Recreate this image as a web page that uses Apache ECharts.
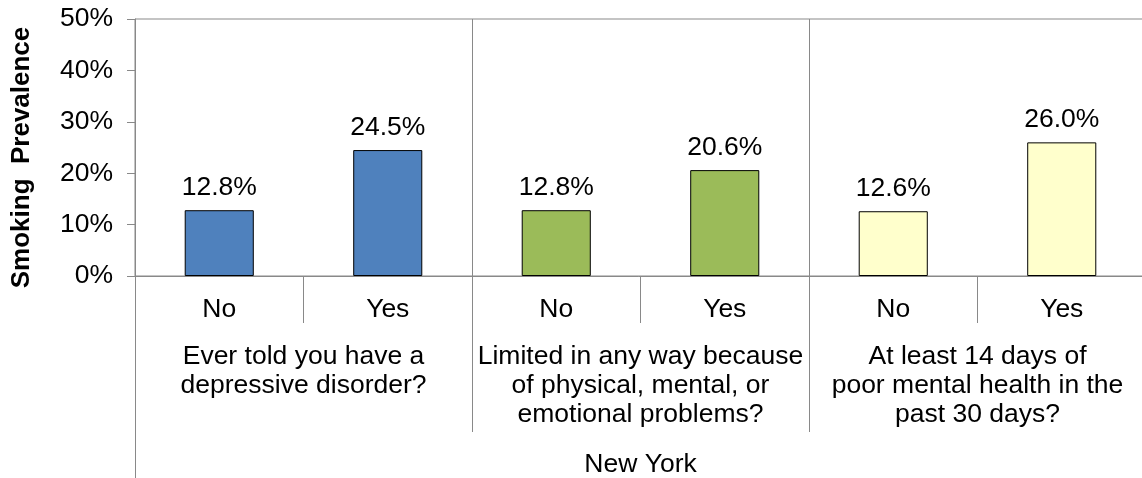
<!DOCTYPE html>
<html>
<head>
<meta charset="utf-8">
<script src="https://cdn.jsdelivr.net/npm/echarts@6/dist/echarts.min.js"></script>
<style>
html,body{margin:0;padding:0;background:#fff;}
#chart{width:1142px;height:478px;}
</style>
</head>
<body>
<div id="chart"></div>
<script>
// ---- data ----
const categories = ['No', 'Yes', 'No', 'Yes', 'No', 'Yes'];
const groups = [
  'Ever told you have a\ndepressive disorder?',
  'Limited in any way because\nof physical, mental, or\nemotional problems?',
  'At least 14 days of\npoor mental health in the\npast 30 days?'
];
const region = ['New York'];
const values = [12.8, 24.5, 12.8, 20.6, 12.6, 26.0];
const groupOfBar = [0, 0, 1, 1, 2, 2];
const yTicks = [0, 10, 20, 30, 40, 50];
const yName = 'Smoking  Prevalence';

// ---- styles ----
const groupColors = ['#4F81BD', '#9BBB59', '#FFFFCC'];
const GRAY = '#898989';
const FONT = "'Liberation Sans', Arial, sans-serif";
const FS = 26.5;

const chart = echarts.init(document.getElementById('chart'));
const option = {
  animation: false,
  textStyle: { fontFamily: FONT, color: '#000' },
  grid: { left: 135, top: 19, width: 1011, height: 257, show: true, borderColor: GRAY, borderWidth: 1, containLabel: false, outerBoundsMode: 'none' },
  xAxis: [
    {
      type: 'category', data: categories, position: 'bottom',
      axisLine: { show: true, lineStyle: { color: GRAY, width: 1 } },
      axisTick: { show: true, interval: 0, length: 47, lineStyle: { color: GRAY } },
      axisLabel: { interval: 0, margin: 20, fontSize: FS, color: '#000', fontFamily: FONT },
      splitLine: { show: false }
    },
    {
      type: 'category', data: groups, position: 'bottom',
      axisLine: { show: false },
      axisTick: { show: true, interval: 0, length: 156, lineStyle: { color: GRAY } },
      axisLabel: { interval: 0, margin: 66, fontSize: FS, lineHeight: 29, color: '#000', fontFamily: FONT, align: 'center' },
      splitLine: { show: true, interval: 0, lineStyle: { color: GRAY, width: 1 } }
    },
    {
      type: 'category', data: region, position: 'bottom',
      axisLine: { show: false },
      axisTick: { show: true, interval: 0, length: 202, lineStyle: { color: GRAY } },
      axisLabel: { interval: 0, margin: 175, fontSize: FS, color: '#000', fontFamily: FONT },
      splitLine: { show: false }
    }
  ],
  yAxis: {
    type: 'value', min: yTicks[0], max: yTicks[yTicks.length - 1], interval: yTicks[1] - yTicks[0],
    name: yName, nameLocation: 'middle', nameRotate: 90, nameGap: 100,
    nameTextStyle: { fontSize: 26, fontWeight: 'bold', color: '#000', fontFamily: FONT, padding: [0, 20, 0, 0] },
    axisLine: { show: true, lineStyle: { color: GRAY, width: 1 } },
    axisTick: { show: true, length: 8, lineStyle: { color: GRAY } },
    axisLabel: { formatter: '{value}%', margin: 22, fontSize: FS, color: '#000', fontFamily: FONT },
    splitLine: { show: false }
  },
  series: [{
    type: 'bar', xAxisIndex: 0, barWidth: '41%',
    data: values.map((v, i) => ({
      value: v,
      itemStyle: { color: groupColors[groupOfBar[i]], borderColor: '#000', borderWidth: 1 }
    })),
    label: {
      show: true, position: 'top', distance: 9, fontSize: FS, color: '#000', fontFamily: FONT,
      formatter: p => p.value.toFixed(1) + '%'
    }
  }]
};
chart.setOption(option);
</script>
</body>
</html>
